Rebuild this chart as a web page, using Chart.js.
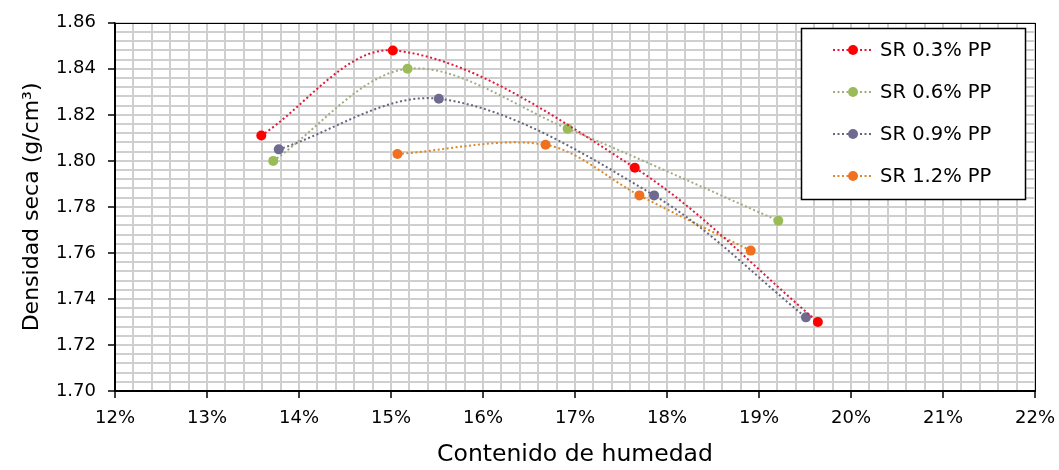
<!DOCTYPE html>
<html>
<head>
<meta charset="utf-8">
<script src="https://cdn.jsdelivr.net/npm/chart.js@4"></script>
<style>
  html, body { margin: 0; padding: 0; background: #fff; }
  #wrap { width: 1059px; height: 470px; }
</style>
</head>
<body>
<div id="wrap"><canvas id="densityChart"></canvas></div>
<script>
// datos (humedad %, densidad seca g/cm3)
const seriesNames = ['SR 0.3% PP', 'SR 0.6% PP', 'SR 0.9% PP', 'SR 1.2% PP'];
const humedad03 = [13.59, 15.02, 17.65, 19.64];
const densidad03 = [1.811, 1.848, 1.797, 1.730];
const humedad06 = [13.72, 15.18, 16.92, 19.21];
const densidad06 = [1.800, 1.840, 1.814, 1.774];
const humedad09 = [13.78, 15.52, 17.86, 19.51];
const densidad09 = [1.805, 1.827, 1.785, 1.732];
const humedad12 = [15.07, 16.68, 17.70, 18.91];
const densidad12 = [1.803, 1.807, 1.785, 1.761];

const xTicks = [12, 13, 14, 15, 16, 17, 18, 19, 20, 21, 22];
const yTicks = [1.70, 1.72, 1.74, 1.76, 1.78, 1.80, 1.82, 1.84, 1.86];

const FONT = "'DejaVu Sans', sans-serif";

function puntos(xs, ys) {
    return xs.map((x, i) => ({ x: x, y: ys[i] }));
}

function serie(label, xs, ys, lineColor, pointColor) {
    return {
        label: label,
        data: puntos(xs, ys),
        showLine: true,
        tension: 0.33,
        borderColor: lineColor,
        borderWidth: 2,
        borderDash: [2, 2.5],
        pointRadius: 5,
        pointHoverRadius: 5,
        pointBorderWidth: 0,
        pointBackgroundColor: pointColor,
        pointBorderColor: pointColor
    };
}

const isMajorX = v => xTicks.some(t => Math.abs(t - v) < 1e-6);
const isMajorY = v => yTicks.some(t => Math.abs(t - v) < 1e-6);

// marco del area de trazado y leyenda estilo Excel
const marcoPlugin = {
    id: 'marco',
    afterDatasetsDraw(chart) {
        const { ctx, chartArea: a } = chart;
        ctx.save();
        ctx.strokeStyle = '#000';
        ctx.lineWidth = 1;
        ctx.strokeRect(Math.round(a.left) + 0.5, Math.round(a.top) + 0.5,
            Math.round(a.right - a.left), Math.round(a.bottom - a.top));
        ctx.restore();
    },
    afterDraw(chart) {
        const ctx = chart.ctx;
        const box = { x: 801, y: 28, w: 224, h: 171 };
        ctx.save();
        ctx.fillStyle = '#fff';
        ctx.fillRect(box.x, box.y, box.w, box.h);
        ctx.strokeStyle = '#000';
        ctx.lineWidth = 1.5;
        ctx.strokeRect(box.x + 0.5, box.y + 0.5, box.w, box.h);
        chart.data.datasets.forEach((ds, i) => {
            const y = 50 + i * 42;
            ctx.beginPath();
            ctx.setLineDash(ds.borderDash);
            ctx.strokeStyle = ds.borderColor;
            ctx.lineWidth = 2;
            ctx.moveTo(833, y);
            ctx.lineTo(873, y);
            ctx.stroke();
            ctx.setLineDash([]);
            ctx.beginPath();
            ctx.fillStyle = ds.pointBackgroundColor;
            ctx.arc(853, y, 5, 0, Math.PI * 2);
            ctx.fill();
            ctx.fillStyle = '#000';
            ctx.font = '19.5px ' + FONT;
            ctx.textBaseline = 'middle';
            ctx.textAlign = 'left';
            ctx.fillText(ds.label, 880, y + 1);
        });
        ctx.restore();
    }
};

const ctx = document.getElementById('densityChart').getContext('2d');
const densityChart = new Chart(ctx, {
    type: 'scatter',
    data: {
        datasets: [
            serie(seriesNames[0], humedad03, densidad03, '#e2183c', '#ff0000'),
            serie(seriesNames[1], humedad06, densidad06, '#9fae82', '#9bbb59'),
            serie(seriesNames[2], humedad09, densidad09, '#66657e', '#6f6a8f'),
            serie(seriesNames[3], humedad12, densidad12, '#d98a2b', '#f07020')
        ]
    },
    options: {
        responsive: true,
        maintainAspectRatio: false,
        animation: false,
        layout: { padding: { top: 18, right: 24, left: 0, bottom: 0 } },
        plugins: {
            legend: { display: false },
            tooltip: { enabled: false }
        },
        scales: {
            x: {
                type: 'linear',
                min: 12,
                max: 22,
                afterFit: s => { s.height = 79; s.paddingRight = 0; s.paddingLeft = 0; },
                ticks: {
                    stepSize: 0.2,
                    autoSkip: false,
                    maxRotation: 0,
                    padding: 10,
                    color: '#000',
                    font: { family: FONT, size: 18 },
                    callback: v => isMajorX(v) ? Math.round(v) + '%' : ''
                },
                grid: {
                    color: '#cfcfcf',
                    lineWidth: 2,
                    tickLength: 7,
                    tickWidth: 1.5,
                    tickColor: c => (c.tick && isMajorX(c.tick.value)) ? '#000' : 'rgba(0,0,0,0)'
                },
                border: { display: true, color: '#000', width: 1.5 },
                title: {
                    display: true,
                    text: 'Contenido de humedad',
                    color: '#000',
                    font: { family: FONT, size: 23.5 },
                    padding: { top: 0, bottom: 1 }
                }
            },
            y: {
                type: 'linear',
                min: 1.70,
                max: 1.86,
                afterFit: s => { s.width = 115; },
                ticks: {
                    stepSize: 0.004,
                    autoSkip: false,
                    padding: 12,
                    color: '#000',
                    font: { family: FONT, size: 18 },
                    callback: v => isMajorY(v) ? v.toFixed(2) : ''
                },
                grid: {
                    color: '#cfcfcf',
                    lineWidth: 2,
                    tickLength: 7,
                    tickWidth: 1.5,
                    tickColor: c => (c.tick && isMajorY(c.tick.value)) ? '#000' : 'rgba(0,0,0,0)'
                },
                border: { display: true, color: '#000', width: 1.5 },
                title: {
                    display: true,
                    text: 'Densidad seca (g/cm³)',
                    color: '#000',
                    font: { family: FONT, size: 22 },
                    padding: { top: 19, bottom: 0 }
                }
            }
        }
    },
    plugins: [marcoPlugin]
});
</script>
</body>
</html>
